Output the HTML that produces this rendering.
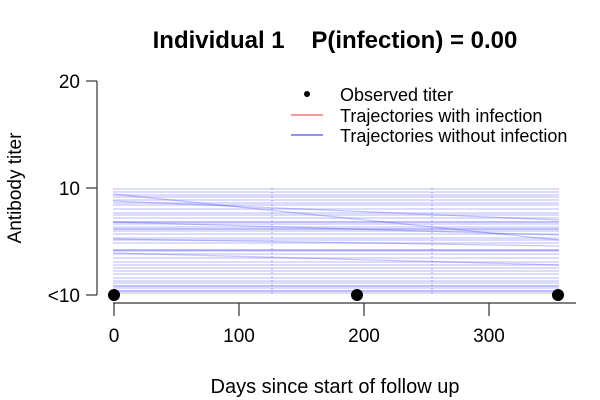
<!DOCTYPE html>
<html><head><style>body{margin:0;background:#fff}svg{display:block}text{font-family:"Liberation Sans",Arial,sans-serif}</style></head><body>
<svg width="600" height="400" xmlns="http://www.w3.org/2000/svg">
<text x="335" y="48" font-size="24" font-weight="bold" text-anchor="middle" xml:space="preserve">Individual 1    P(infection) = 0.00</text>
<g stroke="#0000ff" stroke-opacity="0.22" stroke-width="1.3">
<line x1="113" x2="559" y1="189" y2="189"/><line x1="113" x2="559" y1="192" y2="192"/><line x1="113" x2="559" y1="195" y2="195"/><line x1="113" x2="559" y1="197" y2="197"/><line x1="113" x2="559" y1="200" y2="200"/><line x1="113" x2="559" y1="203" y2="203"/><line x1="113" x2="559" y1="205" y2="205"/><line x1="113" x2="559" y1="209" y2="209"/><line x1="113" x2="559" y1="213" y2="213"/><line x1="113" x2="559" y1="215" y2="215"/><line x1="113" x2="559" y1="218" y2="218"/><line x1="113" x2="559" y1="222" y2="222"/><line x1="113" x2="559" y1="224" y2="224"/><line x1="113" x2="559" y1="227" y2="227"/><line x1="113" x2="559" y1="229" y2="229"/><line x1="113" x2="559" y1="231" y2="231"/><line x1="113" x2="559" y1="234" y2="234"/><line x1="113" x2="559" y1="238" y2="238"/><line x1="113" x2="559" y1="240" y2="240"/><line x1="113" x2="559" y1="243" y2="243"/><line x1="113" x2="559" y1="250" y2="250"/><line x1="113" x2="559" y1="251" y2="251"/><line x1="113" x2="559" y1="254" y2="254"/><line x1="113" x2="559" y1="258" y2="258"/><line x1="113" x2="559" y1="262" y2="262"/><line x1="113" x2="559" y1="265" y2="265"/><line x1="113" x2="559" y1="268" y2="268"/><line x1="113" x2="559" y1="271" y2="271"/><line x1="113" x2="559" y1="274" y2="274"/><line x1="113" x2="559" y1="278" y2="278"/><line x1="113" x2="559" y1="281" y2="281"/><line x1="113" x2="559" y1="283" y2="283"/><line x1="113" x2="559" y1="286" y2="286"/><line x1="113" x2="559" y1="288" y2="288"/><line x1="113" x2="559" y1="291" y2="291"/><line x1="113" x2="559" y1="293" y2="293"/>
<line x1="113" x2="559" y1="222" y2="222"/><line x1="113" x2="559" y1="229" y2="229"/><line x1="113" x2="559" y1="250" y2="250"/><line x1="113" x2="559" y1="286" y2="286"/><line x1="113" x2="559" y1="291" y2="291"/>
<line x1="113" x2="559" y1="194" y2="240"/><line x1="113" x2="559" y1="201" y2="220"/><line x1="113" x2="559" y1="222" y2="235"/><line x1="113" x2="559" y1="239" y2="246"/><line x1="113" x2="559" y1="253" y2="265"/>
</g>
<g stroke="#0000ff" stroke-opacity="0.3" stroke-width="1" stroke-dasharray="2,2">
<line x1="272" x2="272" y1="188" y2="294"/><line x1="432" x2="432" y1="188" y2="294"/>
</g>
<g stroke="#333" stroke-width="1.2" fill="none">
<line x1="97" y1="81" x2="97" y2="295"/><line x1="86" y1="81" x2="97" y2="81"/><line x1="86" y1="188" x2="97" y2="188"/><line x1="86" y1="295" x2="97" y2="295"/>
<line x1="113" y1="303" x2="576" y2="303"/><line x1="114" y1="303" x2="114" y2="316"/><line x1="239" y1="303" x2="239" y2="316"/><line x1="364" y1="303" x2="364" y2="316"/><line x1="489" y1="303" x2="489" y2="316"/>
</g>
<g font-size="19" text-anchor="end"><text x="80" y="88">20</text><text x="80" y="195">10</text><text x="80" y="302">&lt;10</text></g>
<g font-size="19" text-anchor="middle"><text x="114" y="342">0</text><text x="239" y="342">100</text><text x="364" y="342">200</text><text x="489" y="342">300</text>
<text x="335" y="393" font-size="20">Days since start of follow up</text>
<text transform="translate(21,188) rotate(-90)">Antibody titer</text></g>
<g fill="#000"><circle cx="114" cy="295" r="6"/><circle cx="357" cy="295" r="6"/><circle cx="558" cy="295" r="6"/><circle cx="307" cy="94" r="3"/></g>
<line x1="291" x2="323" y1="115" y2="115" stroke="#e33" stroke-width="1"/>
<line x1="291" x2="323" y1="135" y2="135" stroke="#22f" stroke-width="1"/>
<g font-size="18"><text x="340" y="101">Observed titer</text><text x="340" y="122">Trajectories with infection</text><text x="340" y="142">Trajectories without infection</text></g>
</svg>
</body></html>
